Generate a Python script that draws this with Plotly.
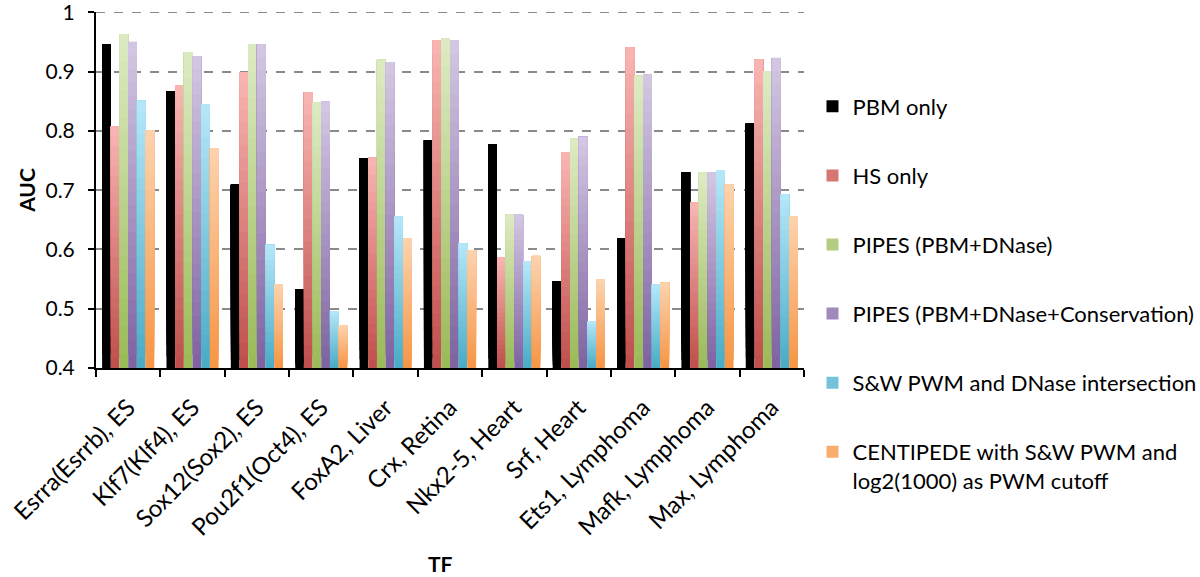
import plotly.graph_objects as go

categories = ["Esrra(Esrrb), ES", "Klf7(Klf4), ES", "Sox12(Sox2), ES", "Pou2f1(Oct4), ES",
              "FoxA2, Liver", "Crx, Retina", "Nkx2-5, Heart", "Srf, Heart",
              "Ets1, Lymphoma", "Mafk, Lymphoma", "Max, Lymphoma"]

pbm_only = [0.946, 0.867, 0.709, 0.533, 0.754, 0.784, 0.777, 0.546, 0.619, 0.730, 0.812]
hs_only = [0.808, 0.877, 0.899, 0.865, 0.755, 0.953, 0.587, 0.764, 0.941, 0.679, 0.921]
pipes_dnase = [0.963, 0.933, 0.946, 0.848, 0.920, 0.956, 0.659, 0.787, 0.893, 0.730, 0.901]
pipes_cons = [0.950, 0.926, 0.946, 0.850, 0.916, 0.953, 0.659, 0.790, 0.895, 0.730, 0.923]
sw_pwm = [0.851, 0.845, 0.608, 0.496, 0.656, 0.610, 0.580, 0.479, 0.541, 0.734, 0.693]
centipede = [0.801, 0.771, 0.541, 0.472, 0.619, 0.599, 0.589, 0.550, 0.544, 0.710, 0.656]

series_names = ["PBM only", "HS only", "PIPES (PBM+DNase)", "PIPES (PBM+DNase+Conservation)",
                "S&W PWM and DNase intersection",
                "CENTIPEDE with S&W PWM and<br>log2(1000) as PWM cutoff"]
series_values = [pbm_only, hs_only, pipes_dnase, pipes_cons, sw_pwm, centipede]
# (bottom colour, top colour) for the Excel-like vertical gradient
series_colors = [((0, 0, 0), (0, 0, 0)),
                 ((192, 80, 77), (248, 180, 177)),
                 ((155, 187, 89), (220, 234, 194)),
                 ((128, 100, 162), (210, 198, 226)),
                 ((75, 172, 198), (180, 230, 248)),
                 ((247, 150, 70), (252, 210, 172))]

BASE = 0.4
NSEG = 24
Y_TOP = 1.0

def mix(c0, c1, t):
    return "rgb(%d,%d,%d)" % tuple(round(a + (b - a) * t) for a, b in zip(c0, c1))

fig = go.Figure()
for si, (name, vals, (cb, ct)) in enumerate(zip(series_names, series_values, series_colors)):
    for k in range(NSEG):
        t = k / (NSEG - 1)
        # each layer spans from its own start up to the bar top; later layers overlay earlier ones
        bases = [BASE + (v - BASE) * k / NSEG for v in vals]
        heights = [v - b for v, b in zip(vals, bases)]
        show = (k == int(NSEG * 0.4))
        fig.add_trace(go.Bar(
            x=categories, y=heights, base=bases,
            name=name, offsetgroup=str(si), legendgroup=str(si),
            showlegend=show, legendrank=si + 1,
            marker=dict(color=mix(cb, ct, t), line=dict(width=0)),
            hoverinfo="skip",
        ))

fig.update_layout(
    width=1200, height=577,
    barmode="group", bargap=0.19, bargroupgap=0,
    plot_bgcolor="white", paper_bgcolor="white",
    margin=dict(l=96, r=396, t=12, b=209, autoexpand=False),
    font=dict(family="Lato, Open Sans, sans-serif", size=21, color="black"),
    legend=dict(x=1.012, y=0.7935, xanchor="left", yanchor="top",
                tracegroupgap=37.5, valign="top", maxheight=600,
                font=dict(size=22), itemwidth=30),
    xaxis=dict(showline=True, linecolor="black", linewidth=2, automargin=False,
               ticks="outside", tickson="boundaries", ticklen=7, tickwidth=2,
               tickcolor="black", tickangle=-45, tickfont=dict(size=24),
               ticklabelstandoff=14),
    yaxis=dict(range=[0.4, 1.0005], tickvals=[0.4, 0.5, 0.6, 0.7, 0.8, 0.9, 1.0],
               ticktext=["0.4", "0.5", "0.6", "0.7", "0.8", "0.9", "1"],
               showline=True, linecolor="black", linewidth=2, automargin=False,
               ticks="outside", ticklen=6, tickwidth=1.5, tickcolor="black",
               ticklabelstandoff=9, ticklabeloverflow="allow",
               showgrid=True, gridcolor="#8a8a8a", gridwidth=1.5, griddash="dash",
               tickfont=dict(size=21), zeroline=False,
               title=dict(text="<b>AUC</b>", font=dict(size=21), standoff=4)),
    annotations=[dict(text="<b>TF</b>", xref="paper", yref="paper", x=0.486, y=-0.548,
                      xanchor="center", yanchor="middle", showarrow=False,
                      font=dict(size=21))],
    shapes=[dict(type="line", xref="paper", yref="y", x0=0, x1=1, y0=Y_TOP, y1=Y_TOP,
                 line=dict(color="#8a8a8a", width=1.5, dash="dash"), layer="below")],
)

fig.write_html("out.html", post_script="document.body.style.margin='0';",
               config={"displayModeBar": False})
